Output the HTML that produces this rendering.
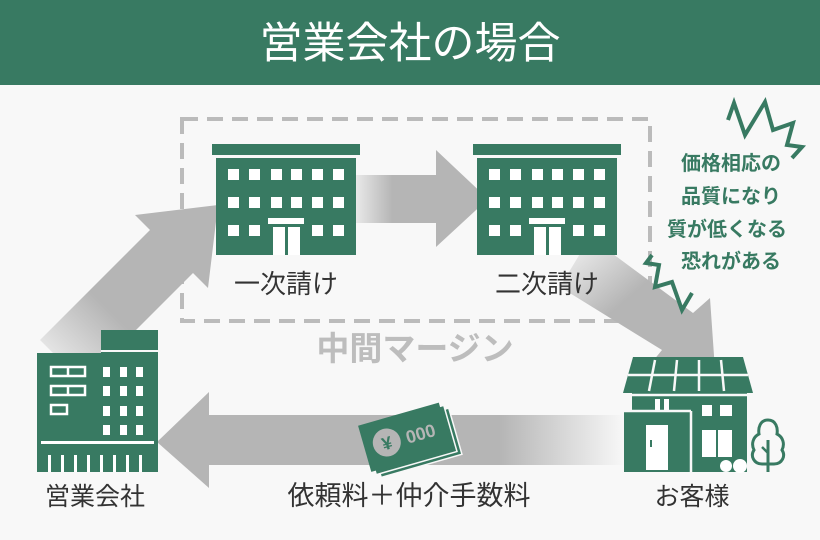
<!DOCTYPE html>
<html><head><meta charset="utf-8"><style>
html,body{margin:0;padding:0;background:#f8f8f8;}
svg{display:block;}
text{font-family:"Liberation Sans","Noto Sans CJK JP",sans-serif;}
</style></head><body>
<svg width="820" height="540" viewBox="0 0 820 540" xmlns="http://www.w3.org/2000/svg">
<defs>
<linearGradient id="g1" x1="0" x2="1" y1="0" y2="0">
<stop offset="0" stop-color="#b5b5b5" stop-opacity="0"/><stop offset="0.5" stop-color="#b5b5b5"/></linearGradient>
<linearGradient id="g2" x1="0" x2="1"><stop offset="0.7" stop-color="#b5b5b5"/><stop offset="1" stop-color="#b5b5b5" stop-opacity="0"/></linearGradient>
<linearGradient id="g3" x1="0" y1="0" x2="1" y2="1"><stop offset="0" stop-color="#b5b5b5" stop-opacity="0"/><stop offset="0.45" stop-color="#b5b5b5"/></linearGradient>
<linearGradient id="g4" x1="0" y1="1" x2="1" y2="0"><stop offset="0" stop-color="#b5b5b5" stop-opacity="0"/><stop offset="0.4" stop-color="#b5b5b5"/></linearGradient>
</defs>
<rect width="820" height="540" fill="#f8f8f8"/>
<rect width="820" height="85" fill="#387a62"/>
<text x="410" y="58" font-size="43" fill="#fff" text-anchor="middle">営業会社の場合</text>

<rect x="182" y="119" width="468" height="202" fill="none" stroke="#bbb" stroke-width="4" stroke-dasharray="16,9"/>
<text x="415" y="360" font-size="33" font-weight="bold" fill="#bdbdbd" text-anchor="middle">中間マージン</text>

<polygon points="40,340 150,230 135,215 218,205 208,288 193,273 83,383" fill="url(#g4)"/>
<rect x="345" y="175" width="95" height="48" fill="url(#g1)"/>
<polygon points="436,150 488,199 436,247" fill="#b5b5b5"/>
<polygon points="590,237 693,313 710,298 715,370 648,367 662,350 560,287" fill="url(#g3)"/>
<rect x="205" y="415" width="420" height="50" fill="url(#g2)"/>
<polygon points="157,442 209,392 209,488" fill="#b5b5b5"/>

<g id="b1" fill="#387a62">
<rect x="212" y="144" width="148" height="11"/>
<rect x="216" y="158" width="140" height="97"/>
<g fill="#fff">
<rect x="228" y="169" width="11" height="11"/><rect x="249" y="169" width="11" height="11"/><rect x="271" y="169" width="11" height="11"/><rect x="291" y="169" width="11" height="11"/><rect x="312" y="169" width="11" height="11"/><rect x="333" y="169" width="11" height="11"/>
<rect x="228" y="197" width="11" height="11"/><rect x="249" y="197" width="11" height="11"/><rect x="271" y="197" width="11" height="11"/><rect x="291" y="197" width="11" height="11"/><rect x="312" y="197" width="11" height="11"/><rect x="333" y="197" width="11" height="11"/>
<rect x="228" y="225" width="11" height="11"/><rect x="249" y="225" width="11" height="11"/><rect x="312" y="225" width="11" height="11"/><rect x="333" y="225" width="11" height="11"/>
<rect x="268" y="218" width="36" height="6"/><rect x="273" y="227" width="27" height="28"/>
</g>
<rect x="285" y="227" width="3" height="28"/>
</g>
<use href="#b1" x="261"/>
<text x="286" y="293" font-size="26" fill="#333" text-anchor="middle">一次請け</text>
<text x="547" y="293" font-size="26" fill="#333" text-anchor="middle">二次請け</text>

<g font-size="20" font-weight="bold" fill="#387a62" text-anchor="middle">
<text x="731" y="170">価格相応の</text>
<text x="731" y="203">品質になり</text>
<text x="727" y="236">質が低くなる</text>
<text x="731" y="268">恐れがある</text>
</g>
<polyline points="728,120 734,103 745,135 765,102 773,130 793,123 787,145 802,147 792,158" fill="none" stroke="#387a62" stroke-width="4"/>
<polyline points="652,255 646,263 659,265 655,287 672,282 682,310 692,293" fill="none" stroke="#387a62" stroke-width="4"/>

<g fill="#387a62">
<rect x="101" y="330" width="57" height="142"/>
<rect x="37" y="353" width="121" height="119"/>
</g>
<g fill="none" stroke="#fff" stroke-width="2.5">
<rect x="51" y="367" width="34" height="9"/><line x1="68" y1="367" x2="68" y2="376"/>
<rect x="51" y="386" width="34" height="9"/><line x1="68" y1="386" x2="68" y2="395"/>
<rect x="51" y="405" width="16" height="9"/>
</g>
<line x1="101" y1="351" x2="158" y2="351" stroke="#f8f8f8" stroke-width="2"/>
<g fill="#fff">
<rect x="103" y="367" width="7" height="10"/><rect x="120" y="367" width="7" height="10"/><rect x="136" y="367" width="7" height="10"/>
<rect x="103" y="386" width="7" height="10"/><rect x="120" y="386" width="7" height="10"/><rect x="136" y="386" width="7" height="10"/>
<rect x="103" y="406" width="7" height="10"/><rect x="120" y="406" width="7" height="10"/><rect x="136" y="406" width="7" height="10"/>
<rect x="103" y="425" width="7" height="10"/><rect x="120" y="425" width="7" height="10"/><rect x="136" y="425" width="7" height="10"/>
<rect x="41" y="441" width="113" height="3"/>
<rect x="48" y="455" width="3" height="17"/><rect x="61" y="455" width="3" height="17"/><rect x="74" y="455" width="3" height="17"/><rect x="87" y="455" width="3" height="17"/><rect x="100" y="455" width="3" height="17"/><rect x="113" y="455" width="3" height="17"/><rect x="126" y="455" width="3" height="17"/><rect x="139" y="455" width="3" height="17"/>
</g>

<g transform="translate(410,440) rotate(-16)">
<rect x="-38" y="-20" width="84" height="48" fill="#387a62" stroke="#f8f8f8" stroke-width="1.5"/>
<rect x="-42" y="-24" width="84" height="48" fill="#387a62" stroke="#f8f8f8" stroke-width="1.5"/>
<rect x="-46" y="-28" width="84" height="48" fill="#387a62"/>
<circle cx="-23" cy="-4" r="14" fill="#b5b5b5"/>
<text x="-23" y="3" font-size="18" font-weight="bold" fill="#387a62" text-anchor="middle">¥</text>
<text x="12" y="3" font-size="18" font-weight="bold" fill="#b5b5b5" text-anchor="middle">000</text>
</g>

<g fill="#387a62">
<polygon points="633,357 743,357 753,393 623,393"/>
<rect x="632" y="393" width="115" height="79"/>
<rect x="624" y="412" width="66" height="60"/>
</g>
<g stroke="#f8f8f8" stroke-width="2.5" fill="none">
<line x1="628" y1="375" x2="748" y2="375"/>
<line x1="655" y1="360" x2="649" y2="391"/><line x1="677" y1="360" x2="674" y2="391"/><line x1="699" y1="360" x2="699" y2="391"/><line x1="721" y1="360" x2="724" y2="391"/>
<line x1="624" y1="395" x2="753" y2="395"/>
<line x1="624" y1="411" x2="691" y2="411"/><line x1="691" y1="411" x2="691" y2="472"/>
</g>
<g fill="#fff">
<rect x="646" y="425" width="22" height="45"/>
<rect x="655" y="399" width="5" height="11"/><rect x="664" y="399" width="5" height="11"/>
<rect x="702" y="405" width="10" height="11"/><rect x="720" y="405" width="12" height="11"/>
<rect x="702" y="430" width="30" height="27"/>
<circle cx="726" cy="466" r="6"/><circle cx="740" cy="466" r="7"/>
</g>
<rect x="650" y="440" width="2" height="7" fill="#387a62"/>
<line x1="717" y1="430" x2="717" y2="457" stroke="#387a62" stroke-width="2"/>
<path d="M768,420 c-8,0 -10,8 -9,14 c-6,3 -8,10 -5,16 c-4,6 0,14 8,14 h12 c8,0 12,-8 8,-14 c3,-6 1,-13 -5,-16 c1,-6 -1,-14 -9,-14z" fill="none" stroke="#387a62" stroke-width="3"/>
<line x1="768" y1="440" x2="768" y2="472" stroke="#387a62" stroke-width="3"/>
<line x1="768" y1="453" x2="762" y2="447" stroke="#387a62" stroke-width="2.5"/>

<g font-size="25" fill="#333" text-anchor="middle">
<text x="95" y="505">営業会社</text>
<text x="409" y="505" font-size="27">依頼料＋仲介手数料</text>
<text x="692" y="505">お客様</text>
</g>
</svg>
</body></html>
